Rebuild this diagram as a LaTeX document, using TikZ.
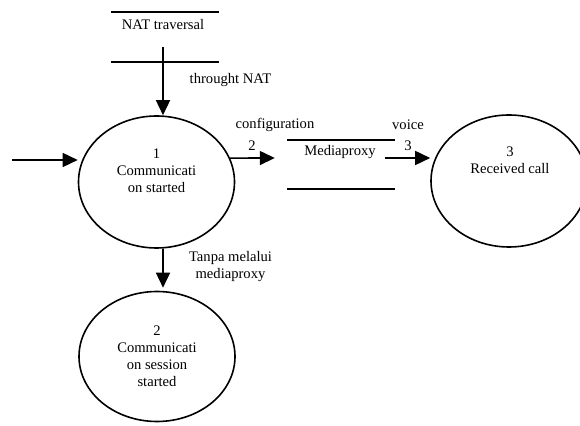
\documentclass[tikz,border=0pt]{standalone}
\usepackage{fontspec}
\setmainfont{Liberation Serif}
\usetikzlibrary{arrows.meta,shapes.geometric}
\begin{document}
\begin{tikzpicture}[x=1pt,y=1pt,
  every node/.style={font=\fontsize{14.6pt}{17pt}\selectfont, inner sep=0pt},
  proc/.style={ellipse, draw, line width=1.6pt, minimum width=156pt, minimum height=132pt},
  store/.style={rectangle, minimum width=108pt, minimum height=50pt},
  txt/.style={align=center},
  arr/.style={line width=1.6pt, -{Triangle[length=15pt,width=14pt]}},
  storeline/.style={line width=1.6pt}]
\useasboundingbox (0,0) rectangle (580,425);
% stores
\node[store] (nat) at (165,388) {};
\draw[storeline] (nat.north west) -- (nat.north east);
\draw[storeline] (nat.south west) -- (nat.south east);
\node[txt] (nattxt) at (163,400) {NAT traversal};
\node[store, minimum height=49pt] (mp) at (341,260.5) {};
\draw[storeline] (mp.north west) -- (mp.north east);
\draw[storeline] (mp.south west) -- (mp.south east);
\node[txt] (mptxt) at (340,273) {Mediaproxy};
% processes
\node[proc] (e1) at (156.5,243) {};
\node[txt] (e1txt) at (156.5,254) {1\\Communicati\\on started};
\node[proc] (e3) at (509,244) {};
\node[txt] (e3txt) at (510,265) {3\\Received call};
\node[proc, minimum height=130pt] (e2) at (157,358.5-290) {};
\node[txt] (e2txt) at (157,68.5) {2\\Communicati\\on session\\started};
% connectors
\coordinate (in) at (12,265);
\draw[arr] ([xshift=-2pt,yshift=-10pt]nat.center) -- ([xshift=6.5pt]e1.north);
\node[txt] (l1) at (230.5,345) {throught NAT};
\draw[arr] (in) -- (in -| e1.west);
\draw[arr] (e1.18) -- ([xshift=-12pt,yshift=6.5pt]mp.west);
\node[txt] (l2a) at (275,300) {configuration};
\node[txt] (l2b) at (252,279) {2};
\draw[arr] ([xshift=-10pt,yshift=6.5pt]mp.east) -- ([yshift=6.5pt]mp.east -| e3.west);
\node[txt] (l3a) at (408,300) {voice};
\node[txt] (l3b) at (408,279) {3};
\draw[arr] ([xshift=6.5pt]e1.south) -- ([xshift=6pt,yshift=3pt]e2.north);
\node[txt] (l4) at (230.5,158.5) {Tanpa melalui\\mediaproxy};
\end{tikzpicture}
\end{document}
